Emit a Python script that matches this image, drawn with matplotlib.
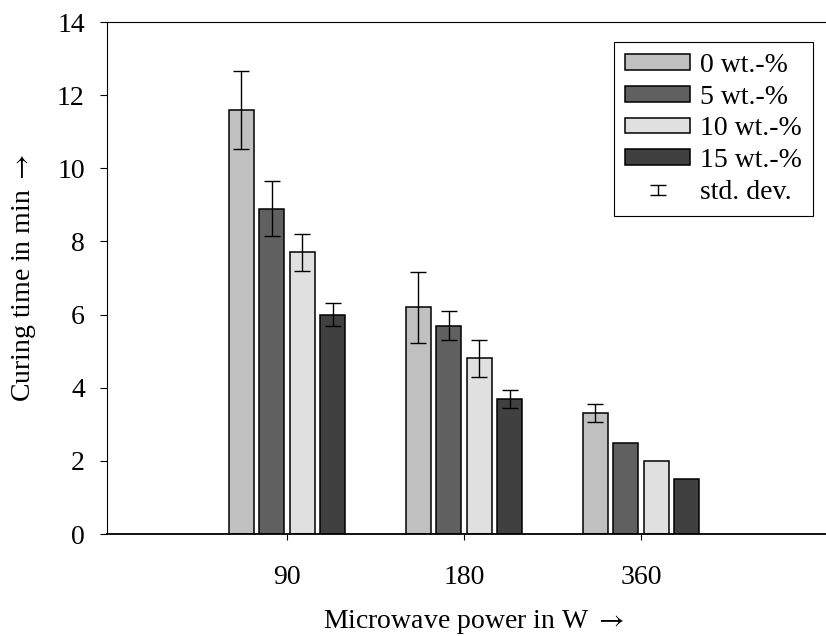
import matplotlib
matplotlib.use("Agg")
import matplotlib.pyplot as plt
from matplotlib.legend_handler import HandlerErrorbar
import numpy as np

plt.rcParams['font.family'] = ['Liberation Serif', 'DejaVu Serif']
plt.rcParams['mathtext.fontset'] = 'stix'

powers = ["90", "180", "360"]
series_labels = ["0 wt.-%", "5 wt.-%", "10 wt.-%", "15 wt.-%"]
values_0 = [11.6, 6.2, 3.3]
values_5 = [8.9, 5.7, 2.5]
values_10 = [7.7, 4.8, 2.0]
values_15 = [6.0, 3.7, 1.5]
err_0 = [1.06, 0.97, 0.25]
err_5 = [0.74, 0.4, None]
err_10 = [0.5, 0.5, None]
err_15 = [0.32, 0.25, None]
colors = ["#c0c0c0", "#606060", "#e0e0e0", "#404040"]

values = [values_0, values_5, values_10, values_15]
errs = [err_0, err_5, err_10, err_15]

fig = plt.figure(figsize=(8.26, 6.36), dpi=100)
ax = fig.add_axes([107/826, 1-534/636, (839-107)/826, (534-22)/636])

x = np.arange(1, len(powers) + 1)
step = 0.173
width = 0.141
bar_handles = []
err_handle = None
for i, (vals, errl, col, lab) in enumerate(zip(values, errs, colors, series_labels)):
    xs = x + (i - 1.5) * step
    b = ax.bar(xs, vals, width, color=col, edgecolor='black', linewidth=1.1, label=lab, zorder=2)
    bar_handles.append(b)
    idx = [j for j, e in enumerate(errl) if e is not None]
    e = ax.errorbar(xs[idx], np.array(vals)[idx], yerr=np.array([errl[j] for j in idx]),
                    fmt='none', ecolor='black', elinewidth=1.0, capsize=5.6, capthick=1.0,
                    zorder=3)
    if err_handle is None:
        err_handle = e

ax.set_xlim(1 - 180/177, 1 + (839-287)/177)
ax.set_ylim(0, 14)
ax.set_xticks(x)
ax.set_xticklabels(powers)
ax.set_yticks(np.arange(0, 15, 2))
ax.tick_params(axis='both', labelsize=20, direction='out', width=0.8)
ax.tick_params(axis='y', length=5, pad=11)
ax.tick_params(axis='x', length=4, pad=18)
ax.spines['right'].set_visible(False)
ax.spines['left'].set_linewidth(0.8)
ax.spines['top'].set_linewidth(0.8)
ax.spines['bottom'].set_linewidth(1.3)

ax.set_xlabel(r"Microwave power in W $\rightarrow$", fontsize=20)
ax.set_ylabel(r"Curing time in min $\rightarrow$", fontsize=20)
ax.xaxis.set_label_coords(0.5, -0.145)
ax.yaxis.set_label_coords(-0.094, 0.5)

leg = ax.legend(bar_handles + [err_handle], series_labels + ["std. dev."], fontsize=20,
                loc='upper left',
                bbox_to_anchor=((614-107)/732, (534-42)/512),
                frameon=True, fancybox=False, edgecolor='black', framealpha=1,
                handlelength=2.34, handleheight=0.5, handletextpad=0.35,
                labelspacing=0.24, borderpad=0.4, borderaxespad=0,
                handler_map={type(err_handle): HandlerErrorbar(yerr_size=0.18)})
leg.get_frame().set_linewidth(0.8)

fig.savefig("out.png", dpi=100)
